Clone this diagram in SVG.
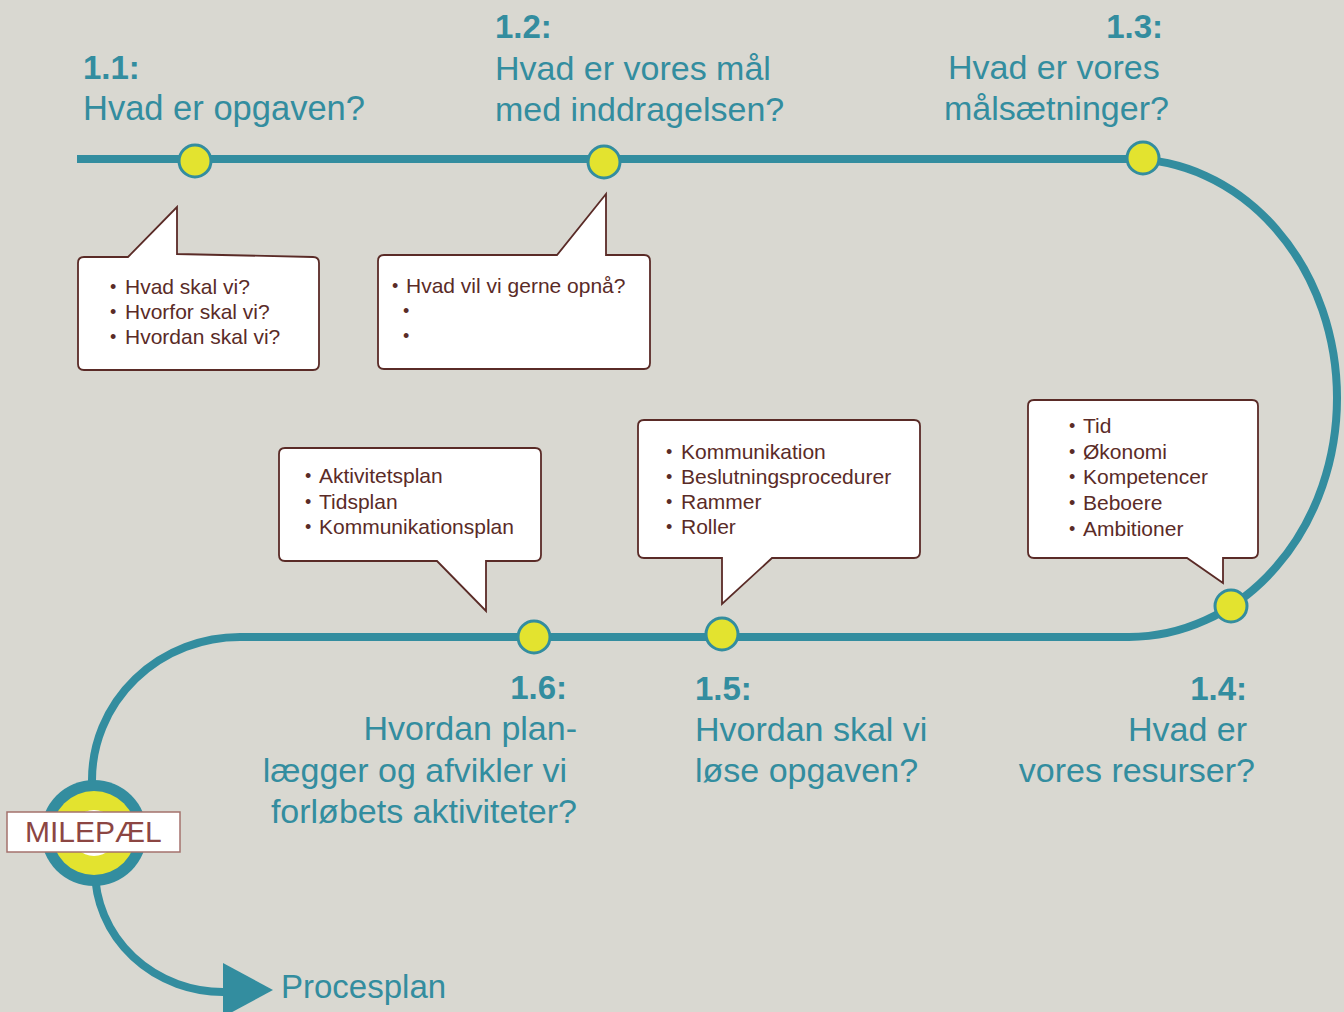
<svg xmlns="http://www.w3.org/2000/svg" width="1344" height="1012" viewBox="0 0 1344 1012">
<style>
.bg{fill:#d9d8d1}
.track{fill:none;stroke:#338d9f;stroke-width:8}
.dot{fill:#e3e32f;stroke:#338d9f;stroke-width:3}
.num{font-family:"Liberation Sans",Arial,Helvetica,sans-serif;font-weight:bold;font-size:33px;fill:#338d9f}
.ttl{font-family:"Liberation Sans",Arial,Helvetica,sans-serif;font-size:34px;fill:#338d9f}
.co{fill:#ffffff;stroke:#5a2b27;stroke-width:1.8;stroke-linejoin:miter}
.ct{font-family:"Liberation Sans",Arial,Helvetica,sans-serif;font-size:21px;fill:#5a2b27}
.bu{font-family:"Liberation Sans",Arial,Helvetica,sans-serif;font-size:18px;fill:#5a2b27}
.end{text-anchor:end}
</style>
<rect class="bg" x="0" y="0" width="1344" height="1012"/>

<g id="connectors">
  <path class="track" d="M77 159 H1129 A208 239 0 0 1 1129 637 H240 A148 143 0 0 0 92 780 L93 800"/>
  <path class="track" d="M95 870 A128 122 0 0 0 225 992"/>
  <polygon points="223,963 273,990 223,1017" fill="#338d9f"/>
</g>

<g id="node-1-1">
  <circle class="dot" cx="195" cy="161" r="16"/>
  <text class="num" x="83" y="79">1.1:</text>
  <text class="ttl" x="83" y="120" style="font-size:34.5px">Hvad er opgaven?</text>
  <path class="co" d="M84 257 H128 L177 207 V254 L313 257 Q319 257 319 263 V364 Q319 370 313 370 H84 Q78 370 78 364 V263 Q78 257 84 257 Z"/>
  <text class="bu" x="110" y="293">•</text><text class="ct" x="125" y="294">Hvad skal vi?</text>
  <text class="bu" x="110" y="318">•</text><text class="ct" x="125" y="319">Hvorfor skal vi?</text>
  <text class="bu" x="110" y="343">•</text><text class="ct" x="125" y="344">Hvordan skal vi?</text>
</g>

<g id="node-1-2">
  <circle class="dot" cx="604" cy="162" r="16"/>
  <text class="num" x="495" y="38">1.2:</text>
  <text class="ttl" x="495" y="80">Hvad er vores mål</text>
  <text class="ttl" x="495" y="121">med inddragelsen?</text>
  <path class="co" d="M384 255 H557 L606 194 V255 H644 Q650 255 650 261 V363 Q650 369 644 369 H384 Q378 369 378 363 V261 Q378 255 384 255 Z"/>
  <text class="bu" x="392" y="292">•</text><text class="ct" x="406" y="293">Hvad vil vi gerne opnå?</text>
  <text class="bu" x="403" y="317">•</text>
  <text class="bu" x="403" y="342">•</text>
</g>

<g id="node-1-3">
  <circle class="dot" cx="1143" cy="158" r="16"/>
  <text class="num end" x="1163" y="38">1.3:</text>
  <text class="ttl" x="948" y="79">Hvad er vores</text>
  <text class="ttl" x="944" y="120">målsætninger?</text>
</g>

<g id="node-1-4">
  <circle class="dot" cx="1231" cy="606" r="16"/>
  <text class="num end" x="1247" y="700">1.4:</text>
  <text class="ttl end" x="1247" y="741">Hvad er</text>
  <text class="ttl end" x="1255" y="782">vores resurser?</text>
  <path class="co" d="M1034 400 H1252 Q1258 400 1258 406 V552 Q1258 558 1252 558 H1223 V583 L1187 558 H1034 Q1028 558 1028 552 V406 Q1028 400 1034 400 Z"/>
  <text class="bu" x="1069" y="432">•</text><text class="ct" x="1083" y="433">Tid</text>
  <text class="bu" x="1069" y="458">•</text><text class="ct" x="1083" y="459">Økonomi</text>
  <text class="bu" x="1069" y="483">•</text><text class="ct" x="1083" y="484">Kompetencer</text>
  <text class="bu" x="1069" y="509">•</text><text class="ct" x="1083" y="510">Beboere</text>
  <text class="bu" x="1069" y="535">•</text><text class="ct" x="1083" y="536">Ambitioner</text>
</g>

<g id="node-1-5">
  <circle class="dot" cx="722" cy="634" r="16"/>
  <text class="num" x="695" y="700">1.5:</text>
  <text class="ttl" x="695" y="741">Hvordan skal vi</text>
  <text class="ttl" x="695" y="782">løse opgaven?</text>
  <path class="co" d="M644 420 H914 Q920 420 920 426 V552 Q920 558 914 558 H772 L722 604 V558 H644 Q638 558 638 552 V426 Q638 420 644 420 Z"/>
  <text class="bu" x="666" y="458">•</text><text class="ct" x="681" y="459">Kommunikation</text>
  <text class="bu" x="666" y="483">•</text><text class="ct" x="681" y="484">Beslutningsprocedurer</text>
  <text class="bu" x="666" y="508">•</text><text class="ct" x="681" y="509">Rammer</text>
  <text class="bu" x="666" y="533">•</text><text class="ct" x="681" y="534">Roller</text>
</g>

<g id="node-1-6">
  <circle class="dot" cx="534" cy="637" r="16"/>
  <text class="num end" x="567" y="699">1.6:</text>
  <text class="ttl end" x="577" y="740">Hvordan plan-</text>
  <text class="ttl end" x="567" y="782">lægger og afvikler vi</text>
  <text class="ttl end" x="577" y="823">forløbets aktiviteter?</text>
  <path class="co" d="M285 448 H535 Q541 448 541 454 V555 Q541 561 535 561 H486 V611 L437 561 H285 Q279 561 279 555 V454 Q279 448 285 448 Z"/>
  <text class="bu" x="305" y="482">•</text><text class="ct" x="319" y="483">Aktivitetsplan</text>
  <text class="bu" x="305" y="508">•</text><text class="ct" x="319" y="509">Tidsplan</text>
  <text class="bu" x="305" y="533">•</text><text class="ct" x="319" y="534">Kommunikationsplan</text>
</g>

<g id="milestone">
  <circle cx="94" cy="833" r="53" fill="#338d9f"/>
  <circle cx="94" cy="833" r="42" fill="#e3e32f"/>
  <circle cx="94" cy="833" r="23" fill="#ffffff"/>
  <rect x="7" y="812" width="173" height="40" fill="#ffffff" stroke="#a4716c" stroke-width="1.5"/>
  <text x="25" y="842" font-family="'Liberation Sans',Arial,Helvetica,sans-serif" font-size="30" fill="#8c4643">MILEPÆL</text>
</g>

<g id="procesplan">
  <text class="ttl" x="281" y="998" style="font-size:33px">Procesplan</text>
</g>
</svg>
